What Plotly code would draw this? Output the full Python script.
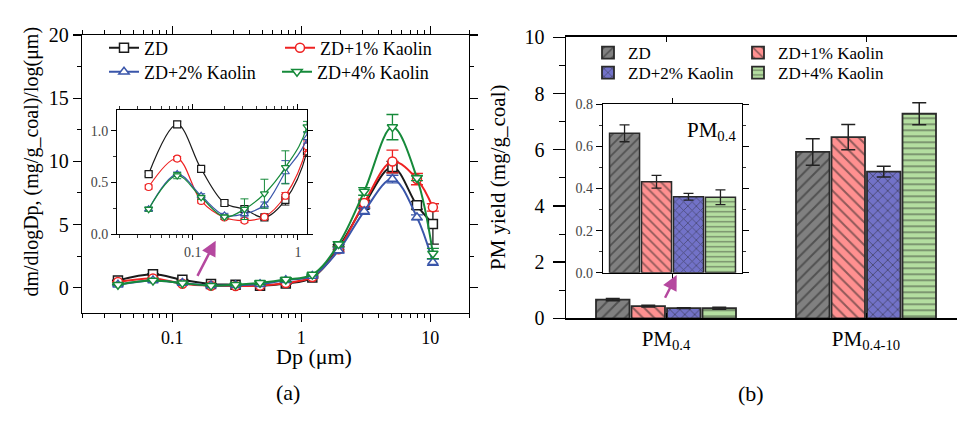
import plotly.graph_objects as go
import numpy as np

# ---------------- data ----------------
Dp = [0.038, 0.071, 0.12, 0.20, 0.31, 0.48, 0.76, 1.22, 1.95, 3.08, 5.1, 7.9, 10.5]
series_names = ["ZD", "ZD+1% Kaolin", "ZD+2% Kaolin", "ZD+4% Kaolin"]
ZD = [0.58, 1.06, 0.63, 0.30, 0.24, 0.16, 0.33, 0.80, 3.20, 6.57, 9.55, 6.52, 5.05]
ZD_err = [0.02, 0.03, 0.02, 0.02, 0.03, 0.02, 0.05, 0.05, 0.20, 0.30, 0.45, 0.30, 1.60]
K1 = [0.455, 0.73, 0.32, 0.16, 0.13, 0.165, 0.37, 0.85, 3.05, 6.71, 9.99, 8.60, 6.36]
K1_err = [0.02, 0.02, 0.02, 0.02, 0.02, 0.02, 0.03, 0.05, 0.20, 0.30, 0.90, 0.45, 0.30]
K2 = [0.24, 0.58, 0.37, 0.18, 0.195, 0.28, 0.60, 0.93, 2.95, 6.05, 8.60, 5.57, 2.02]
K2_err = [0.02, 0.02, 0.02, 0.02, 0.03, 0.03, 0.11, 0.05, 0.20, 0.25, 0.30, 0.20, 0.25]
K4 = [0.24, 0.565, 0.355, 0.165, 0.24, 0.39, 0.645, 1.04, 3.45, 7.62, 12.71, 8.68, 2.71]
K4_err = [0.02, 0.03, 0.02, 0.02, 0.10, 0.14, 0.16, 0.05, 0.20, 0.30, 1.00, 0.20, 0.40]

categories = ["PM<sub>0.4</sub>", "PM<sub>0.4-10</sub>"]
PM04 = [0.662, 0.432, 0.361, 0.358]
PM04_err = [0.04, 0.03, 0.016, 0.035]
PM0410 = [5.92, 6.45, 5.22, 7.28]
PM0410_err = [0.47, 0.45, 0.19, 0.39]

# ---------------- styles ----------------
FONT = "Liberation Serif, Times New Roman, serif"
line_colors = ["#1a1a1a", "#ee2222", "#3a56aa", "#168a3a"]
symbols = ["square", "circle", "triangle-up", "triangle-down"]
bar_colors = ["#808080", "#ff9090", "#7272c8", "#b4dea0"]
bar_patterns = ["/", "\\", "x", "-"]
pattern_sizes = [8, 8, 7, 6]
W, H = 957, 421

def px(x):
    return x / W

def py(y):
    return 1 - y / H

def F(size, color="black"):
    return dict(family=FONT, size=size, color=color)

fig = go.Figure()

lines_y = [ZD, K1, K2, K4]
lines_e = [ZD_err, K1_err, K2_err, K4_err]

# main line traces (left panel)
for i in range(4):
    fig.add_trace(go.Scatter(
        x=Dp, y=lines_y[i], mode="lines+markers", name=series_names[i],
        line=dict(color=line_colors[i], width=2, shape="spline", smoothing=1),
        marker=dict(symbol=symbols[i], size=9, color="white",
                    line=dict(color=line_colors[i], width=1.5)),
        error_y=dict(type="data", array=lines_e[i], color=line_colors[i],
                     thickness=1.3, width=6),
        xaxis="x", yaxis="y",
        legend="legend" if i == 0 else "legend%d" % (i + 1),
    ))

# inset line traces
for i in range(4):
    fig.add_trace(go.Scatter(
        x=Dp, y=lines_y[i], mode="lines+markers", showlegend=False,
        line=dict(color=line_colors[i], width=1.2, shape="spline", smoothing=1),
        marker=dict(symbol=symbols[i], size=7, color="white",
                    line=dict(color=line_colors[i], width=1.2)),
        error_y=dict(type="data", array=lines_e[i], color=line_colors[i],
                     thickness=1, width=4),
        xaxis="x2", yaxis="y2",
    ))

# bars (right panel)
slot, bw = 0.1775, 0.1675
for i in range(4):
    fig.add_trace(go.Bar(
        x=[0, 1], y=[PM04[i], PM0410[i]], name=series_names[i],
        width=bw, offset=(i - 2) * slot + (slot - bw) / 2,
        marker=dict(color=bar_colors[i],
                    line=dict(color="#2a2a2a", width=1.8),
                    pattern=dict(shape=bar_patterns[i], fgcolor="#222222",
                                 bgcolor=bar_colors[i], fillmode="overlay",
                                 size=pattern_sizes[i], solidity=0.25)),
        error_y=dict(type="data", array=[PM04_err[i], PM0410_err[i]],
                     color="#222222", thickness=1.5, width=7),
        xaxis="x3", yaxis="y3",
        legend="legend%d" % (i + 5),
    ))

slot2, bw2 = 0.23, 0.216
for i in range(4):
    fig.add_trace(go.Bar(
        x=[0], y=[PM04[i]], showlegend=False,
        width=bw2, offset=(i - 2) * slot2 + (slot2 - bw2) / 2,
        marker=dict(color=bar_colors[i],
                    line=dict(color="#2a2a2a", width=1.5),
                    pattern=dict(shape=bar_patterns[i], fgcolor="#222222",
                                 bgcolor=bar_colors[i], fillmode="overlay",
                                 size=pattern_sizes[i] - 1, solidity=0.25)),
        error_y=dict(type="data", array=[PM04_err[i]],
                     color="#222222", thickness=1.3, width=5),
        xaxis="x4", yaxis="y4",
    ))

minor_log_main = [m * 10.0 ** e for e in range(-2, 2) for m in range(2, 10)]
minor_log_inset = [m * 10.0 ** e for e in range(-2, 1) for m in range(2, 10)]

ax_common = dict(showline=True, linecolor="black", showgrid=False, zeroline=False,
                 ticks="outside", tickcolor="black", mirror="ticks", automargin=False)

layout = dict(
    width=W, height=421, margin=dict(l=0, r=0, t=0, b=0, autoexpand=False),
    paper_bgcolor="white", plot_bgcolor="white",
    font=F(16),
    barmode="overlay",
    xaxis=dict(**ax_common, type="log", domain=[px(82), px(469)], anchor="y",
               range=[np.log10(0.02), np.log10(20)], tickvals=[0.1, 1, 10],
               ticktext=["0.1", "1", "10"], ticklen=8, tickwidth=1.3, linewidth=1.3,
               tickfont=F(18),
               minor=dict(tickvals=minor_log_main, ticks="outside", ticklen=4,
                          tickwidth=1, tickcolor="black")),
    yaxis=dict(**ax_common, domain=[py(313), py(35)], anchor="x", range=[-2, 20],
               tickvals=[0, 5, 10, 15, 20], ticklen=8, tickwidth=1.3, linewidth=1.3,
               tickfont=F(20),
               minor=dict(dtick=2.5, ticks="outside", ticklen=4, tickwidth=1,
                          tickcolor="black")),
    xaxis2=dict(**ax_common, type="log", domain=[px(117), px(307)], anchor="y2",
                range=[np.log10(0.019), np.log10(1.22)], tickvals=[0.1, 1],
                ticktext=["0.1", "1"], ticklen=5, tickwidth=1, linewidth=1,
                tickfont=F(14, "#444"),
                minor=dict(tickvals=minor_log_inset, ticks="outside", ticklen=3,
                           tickwidth=0.8, tickcolor="black")),
    yaxis2=dict(**ax_common, domain=[py(234), py(110)], anchor="x2", range=[0, 1.2],
                tickvals=[0, 0.5, 1.0], ticktext=["0.0", "0.5", "1.0"], ticklen=5,
                tickwidth=1, linewidth=1, tickfont=F(14, "#444"),
                minor=dict(dtick=0.25, ticks="outside", ticklen=3, tickwidth=0.8,
                           tickcolor="black")),
    xaxis3=dict(showline=True, linecolor="black", linewidth=2, showgrid=False,
                zeroline=False, ticks="inside", ticklen=5, tickcolor="black",
                mirror="ticks", domain=[px(566), 1.0], anchor="y3", automargin=False,
                range=[-0.5, 1.455], tickvals=[0, 1], ticktext=categories,
                tickfont=F(21)),
    yaxis3=dict(showline=True, linecolor="black", linewidth=1.5, showgrid=False,
                zeroline=False, ticks="outside", ticklen=12, tickwidth=1.3,
                tickcolor="black", domain=[py(318.3), py(37.3)], anchor="x3",
                automargin=False, range=[0, 10], dtick=2, tickfont=F(20),
                ticklabelstandoff=4,
                minor=dict(dtick=1, ticks="outside", ticklen=6, tickwidth=1,
                           tickcolor="black")),
    xaxis4=dict(**ax_common, domain=[px(603), px(742)], anchor="y4",
                range=[-0.5, 0.5], tickvals=[0], showticklabels=False,
                ticklen=5, tickwidth=1, linewidth=1.2),
    yaxis4=dict(**ax_common, domain=[py(272.7), py(104.3)], anchor="x4",
                range=[0, 0.8], dtick=0.2, tickformat=".1f", ticklen=6,
                tickwidth=1, linewidth=1.2, tickfont=F(14, "#444"),
                minor=dict(dtick=0.1, ticks="outside", ticklen=3, tickwidth=0.8,
                           tickcolor="black")),
)

# legends (one per entry to mimic the 2x2 grid)
leg_pos = [(104, 48), (280, 48), (104, 72), (277, 72),
           (588, 53), (738, 53), (588, 73), (738, 73)]
for k, (lx, ly) in enumerate(leg_pos):
    key = "legend" if k == 0 else "legend%d" % (k + 1)
    layout[key] = dict(x=px(lx), y=py(ly), xanchor="left", yanchor="middle",
                       bgcolor="rgba(0,0,0,0)", borderwidth=0,
                       font=F(18 if k < 4 else 17))

ann = []
ann.append(dict(text="dm/dlogDp, (mg/g_coal)/log(μm)", x=px(18), y=py(162),
                xref="paper", yref="paper", showarrow=False, textangle=-90,
                font=F(20)))
ann.append(dict(text="Dp (μm)", x=px(274), y=py(371), xref="paper", yref="paper",
                showarrow=False, font=F(22)))
ann.append(dict(text="(a)", x=px(274), y=py(407), xref="paper", yref="paper",
                showarrow=False, font=F(22)))
ann.append(dict(text="(b)", x=px(766), y=py(408), xref="paper", yref="paper",
                showarrow=False, font=F(22)))
ann.append(dict(text="PM yield (mg/g_coal)", x=px(498), y=py(178), xref="paper",
                yref="paper", showarrow=False, textangle=-90, font=F(21)))
ann.append(dict(text="PM<sub>0.4</sub>", x=px(738), y=py(116), xref="paper",
                yref="paper", xanchor="right", showarrow=False, font=F(21)))
# magenta arrows
ann.append(dict(text="", x=px(215.7), y=py(240.7), xref="paper", yref="paper",
                ax=196.7 - 215.7, ay=277.3 - 240.7, showarrow=True, arrowhead=2,
                arrowsize=1.2, arrowwidth=2.5, arrowcolor="#b5489f", standoff=0))
ann.append(dict(text="", x=px(676.7), y=py(275), xref="paper", yref="paper",
                ax=664.3 - 676.7, ay=299.3 - 275, showarrow=True, arrowhead=2,
                arrowsize=1.2, arrowwidth=2.5, arrowcolor="#b5489f", standoff=0))
layout["annotations"] = ann

fig.update_layout(**layout)
fig.write_html("out.html",
               config={"displayModeBar": False, "staticPlot": True},
               post_script="document.body.style.margin='0';document.body.style.padding='0';")
